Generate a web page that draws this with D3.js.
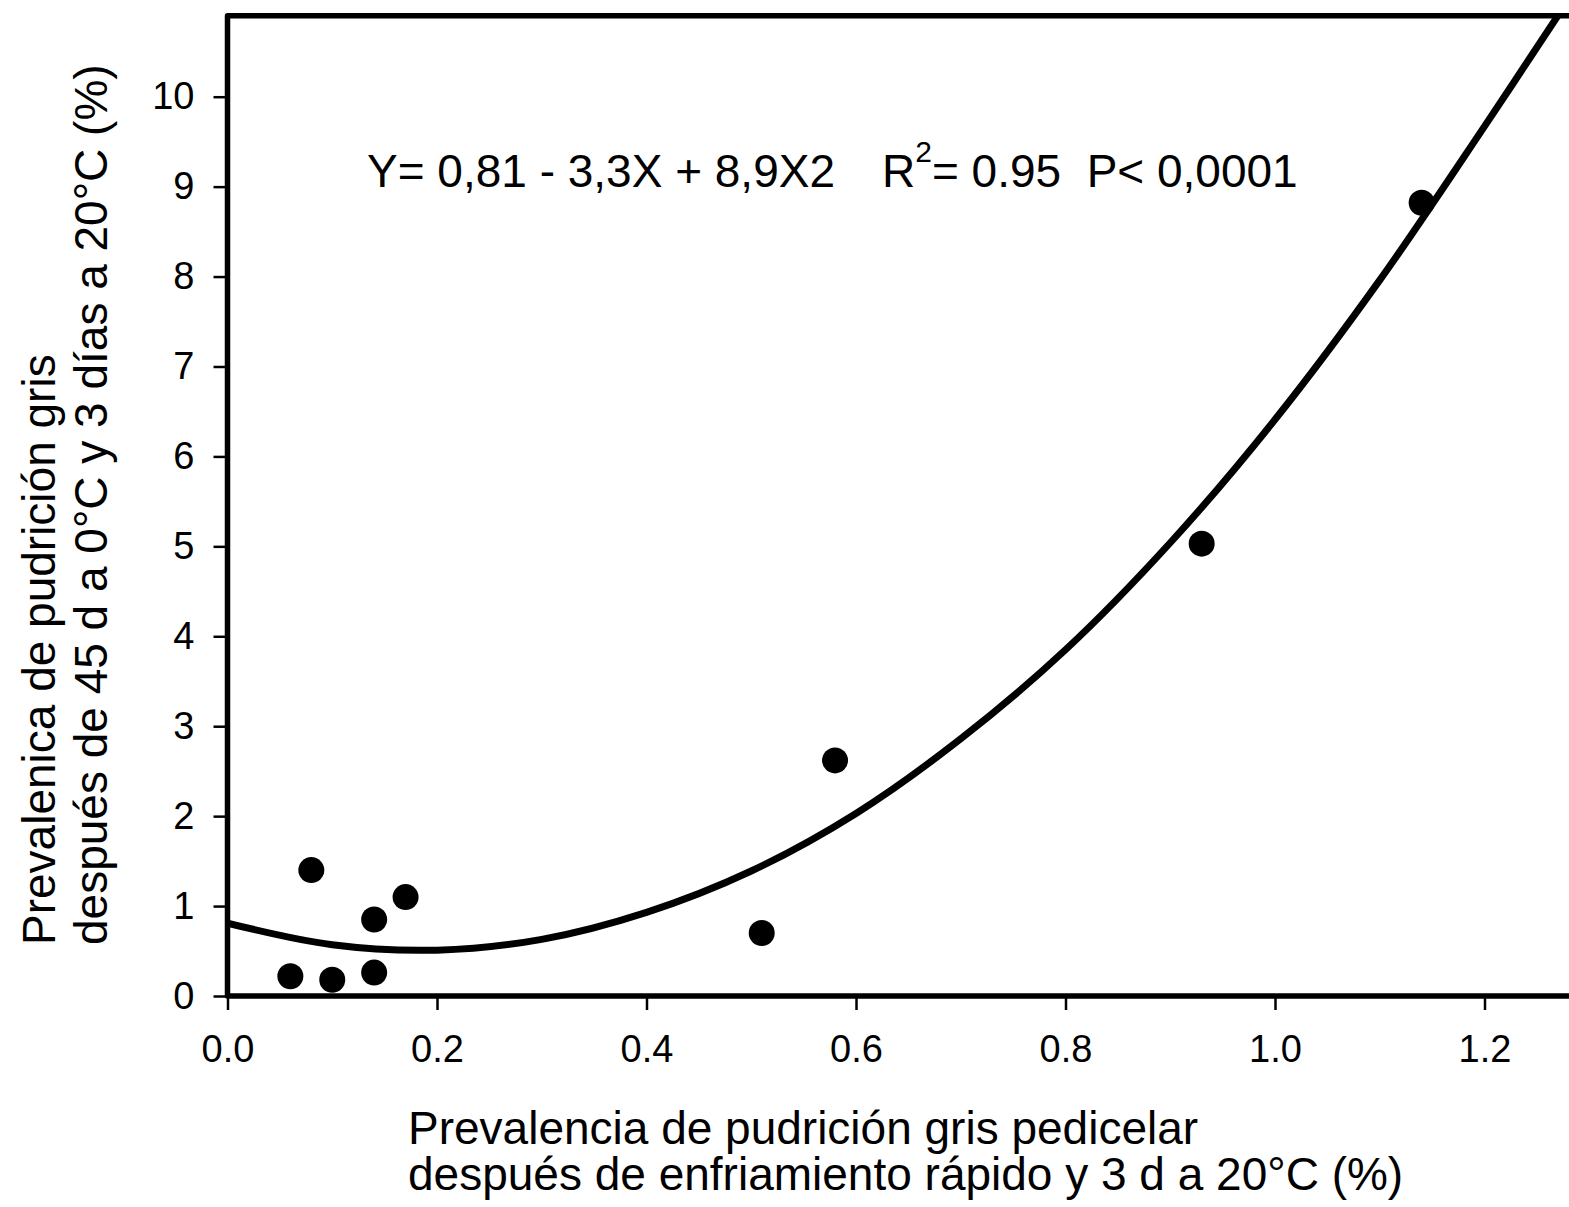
<!DOCTYPE html>
<html>
<head>
    <meta charset="utf-8">
    <title>Prevalencia de pudrición gris</title>
    <style>
        body { margin: 0; background: #ffffff; }
        svg text { font-family: "Liberation Sans", Arial, sans-serif; fill: #000; }
        .tick line { stroke: #000; stroke-width: 2.5px; }
        .title { font-size: 46px; }
        .eq { font-size: 46px; }
    </style>
    <script src="https://d3js.org/d3.v7.min.js"></script>
</head>
<body>
<div id="chart"></div>
<script>
    // observed points (x: pedicelar %, y: after 45 d %)
    var pointX = [0.06, 0.08, 0.10, 0.14, 0.14, 0.17, 0.51, 0.58, 0.93, 1.14];
    var pointY = [0.22, 1.40, 0.18, 0.85, 0.26, 1.10, 0.70, 2.62, 5.03, 8.82];

    // fitted curve
    var curveX = [0, 0.1, 0.2, 0.3, 0.4, 0.5, 0.6, 0.7, 0.8, 0.9, 1.0, 1.1, 1.2, 1.27];
    var curveY = [0.81, 0.57, 0.51, 0.63, 0.93, 1.39, 2.03, 2.86, 3.85, 5.04, 6.41, 7.96, 9.67, 10.9];

    var xTicks = [0, 0.2, 0.4, 0.6, 0.8, 1.0, 1.2];
    var yTicks = [0, 1, 2, 3, 4, 5, 6, 7, 8, 9, 10];

    var xTitle = ["Prevalencia de pudrición gris pedicelar",
                  "después de enfriamiento rápido y 3 d a 20°C (%)"];
    var yTitle = ["Prevalenica de pudrición gris",
                  "después de 45 d a 0°C y 3 días a 20°C (%)"];

    var W = 1569, H = 1207;
    var plotLeft = 227.5, plotBottom = 996;

    var svg = d3.select('#chart')
        .append('svg')
        .attr('width', W)
        .attr('height', H);

    var x = d3.scaleLinear()
        .domain([0, 1.2])
        .range([plotLeft, plotLeft + 1257]);

    var y = d3.scaleLinear()
        .domain([0, 10])
        .range([plotBottom, 96.7]);

    var plotTop = y(10.9);
    var plotRight = x(1.32);

    svg.append('clipPath')
        .attr('id', 'plot-clip')
        .append('rect')
        .attr('x', plotLeft)
        .attr('y', plotTop)
        .attr('width', plotRight - plotLeft)
        .attr('height', plotBottom - plotTop);

    // axes
    var yAxis = d3.axisLeft(y)
        .tickValues(yTicks)
        .tickFormat(d3.format('d'))
        .tickSizeInner(14)
        .tickSizeOuter(0)
        .tickPadding(19);

    svg.append('g')
        .attr('transform', 'translate(' + plotLeft + ',0)')
        .call(yAxis)
        .call(function(g) { g.select('.domain').remove(); });

    var xAxis = d3.axisBottom(x)
        .tickValues(xTicks)
        .tickFormat(d3.format('.1f'))
        .tickSizeInner(14)
        .tickSizeOuter(0)
        .tickPadding(25);

    svg.append('g')
        .attr('transform', 'translate(0,' + plotBottom + ')')
        .call(xAxis)
        .call(function(g) { g.select('.domain').remove(); });

    svg.selectAll('.tick text')
        .attr('font-family', null)
        .attr('font-size', null)
        .style('font-size', '38px');

    // frame (right side runs off the picture)
    svg.append('path')
        .attr('d', 'M' + plotRight + ',' + plotTop + 'L' + plotLeft + ',' + plotTop +
                   'L' + plotLeft + ',' + plotBottom + 'L' + plotRight + ',' + plotBottom)
        .attr('fill', 'none')
        .attr('stroke', '#000')
        .attr('stroke-width', 5.5)
        .attr('stroke-linejoin', 'round');

    // fitted curve
    var line = d3.line()
        .x(function(d, i) { return x(curveX[i]); })
        .y(function(d) { return y(d); })
        .curve(d3.curveCatmullRom);

    svg.append('path')
        .datum(curveY)
        .attr('clip-path', 'url(#plot-clip)')
        .attr('d', line)
        .attr('fill', 'none')
        .attr('stroke', '#000')
        .attr('stroke-width', 7);

    // points
    svg.selectAll('circle.pt')
        .data(pointX)
        .enter()
        .append('circle')
        .attr('class', 'pt')
        .attr('cx', function(d) { return x(d); })
        .attr('cy', function(d, i) { return y(pointY[i]); })
        .attr('r', 13)
        .attr('fill', '#000');

    // equation
    svg.append('text')
        .attr('class', 'eq')
        .attr('x', 367)
        .attr('y', 187)
        .text('Y= 0,81 - 3,3X + 8,9X2');

    var eq2 = svg.append('text')
        .attr('class', 'eq')
        .attr('x', 882)
        .attr('y', 187);
    eq2.append('tspan').text('R');
    eq2.append('tspan').attr('dy', -25).style('font-size', '30px').text('2');
    eq2.append('tspan').attr('dy', 25).text('= 0.95\u00a0\u00a0P< 0,0001');

    // axis titles
    svg.append('text')
        .attr('class', 'title')
        .selectAll('tspan')
        .data(xTitle)
        .enter()
        .append('tspan')
        .attr('x', 408)
        .attr('y', function(d, i) { return 1144 + i * 46; })
        .text(function(d) { return d; });

    svg.append('text')
        .attr('class', 'title')
        .attr('transform', 'rotate(-90)')
        .selectAll('tspan')
        .data(yTitle)
        .enter()
        .append('tspan')
        .attr('x', -945)
        .attr('y', function(d, i) { return 55 + i * 52; })
        .text(function(d) { return d; });
</script>
</body>
</html>
